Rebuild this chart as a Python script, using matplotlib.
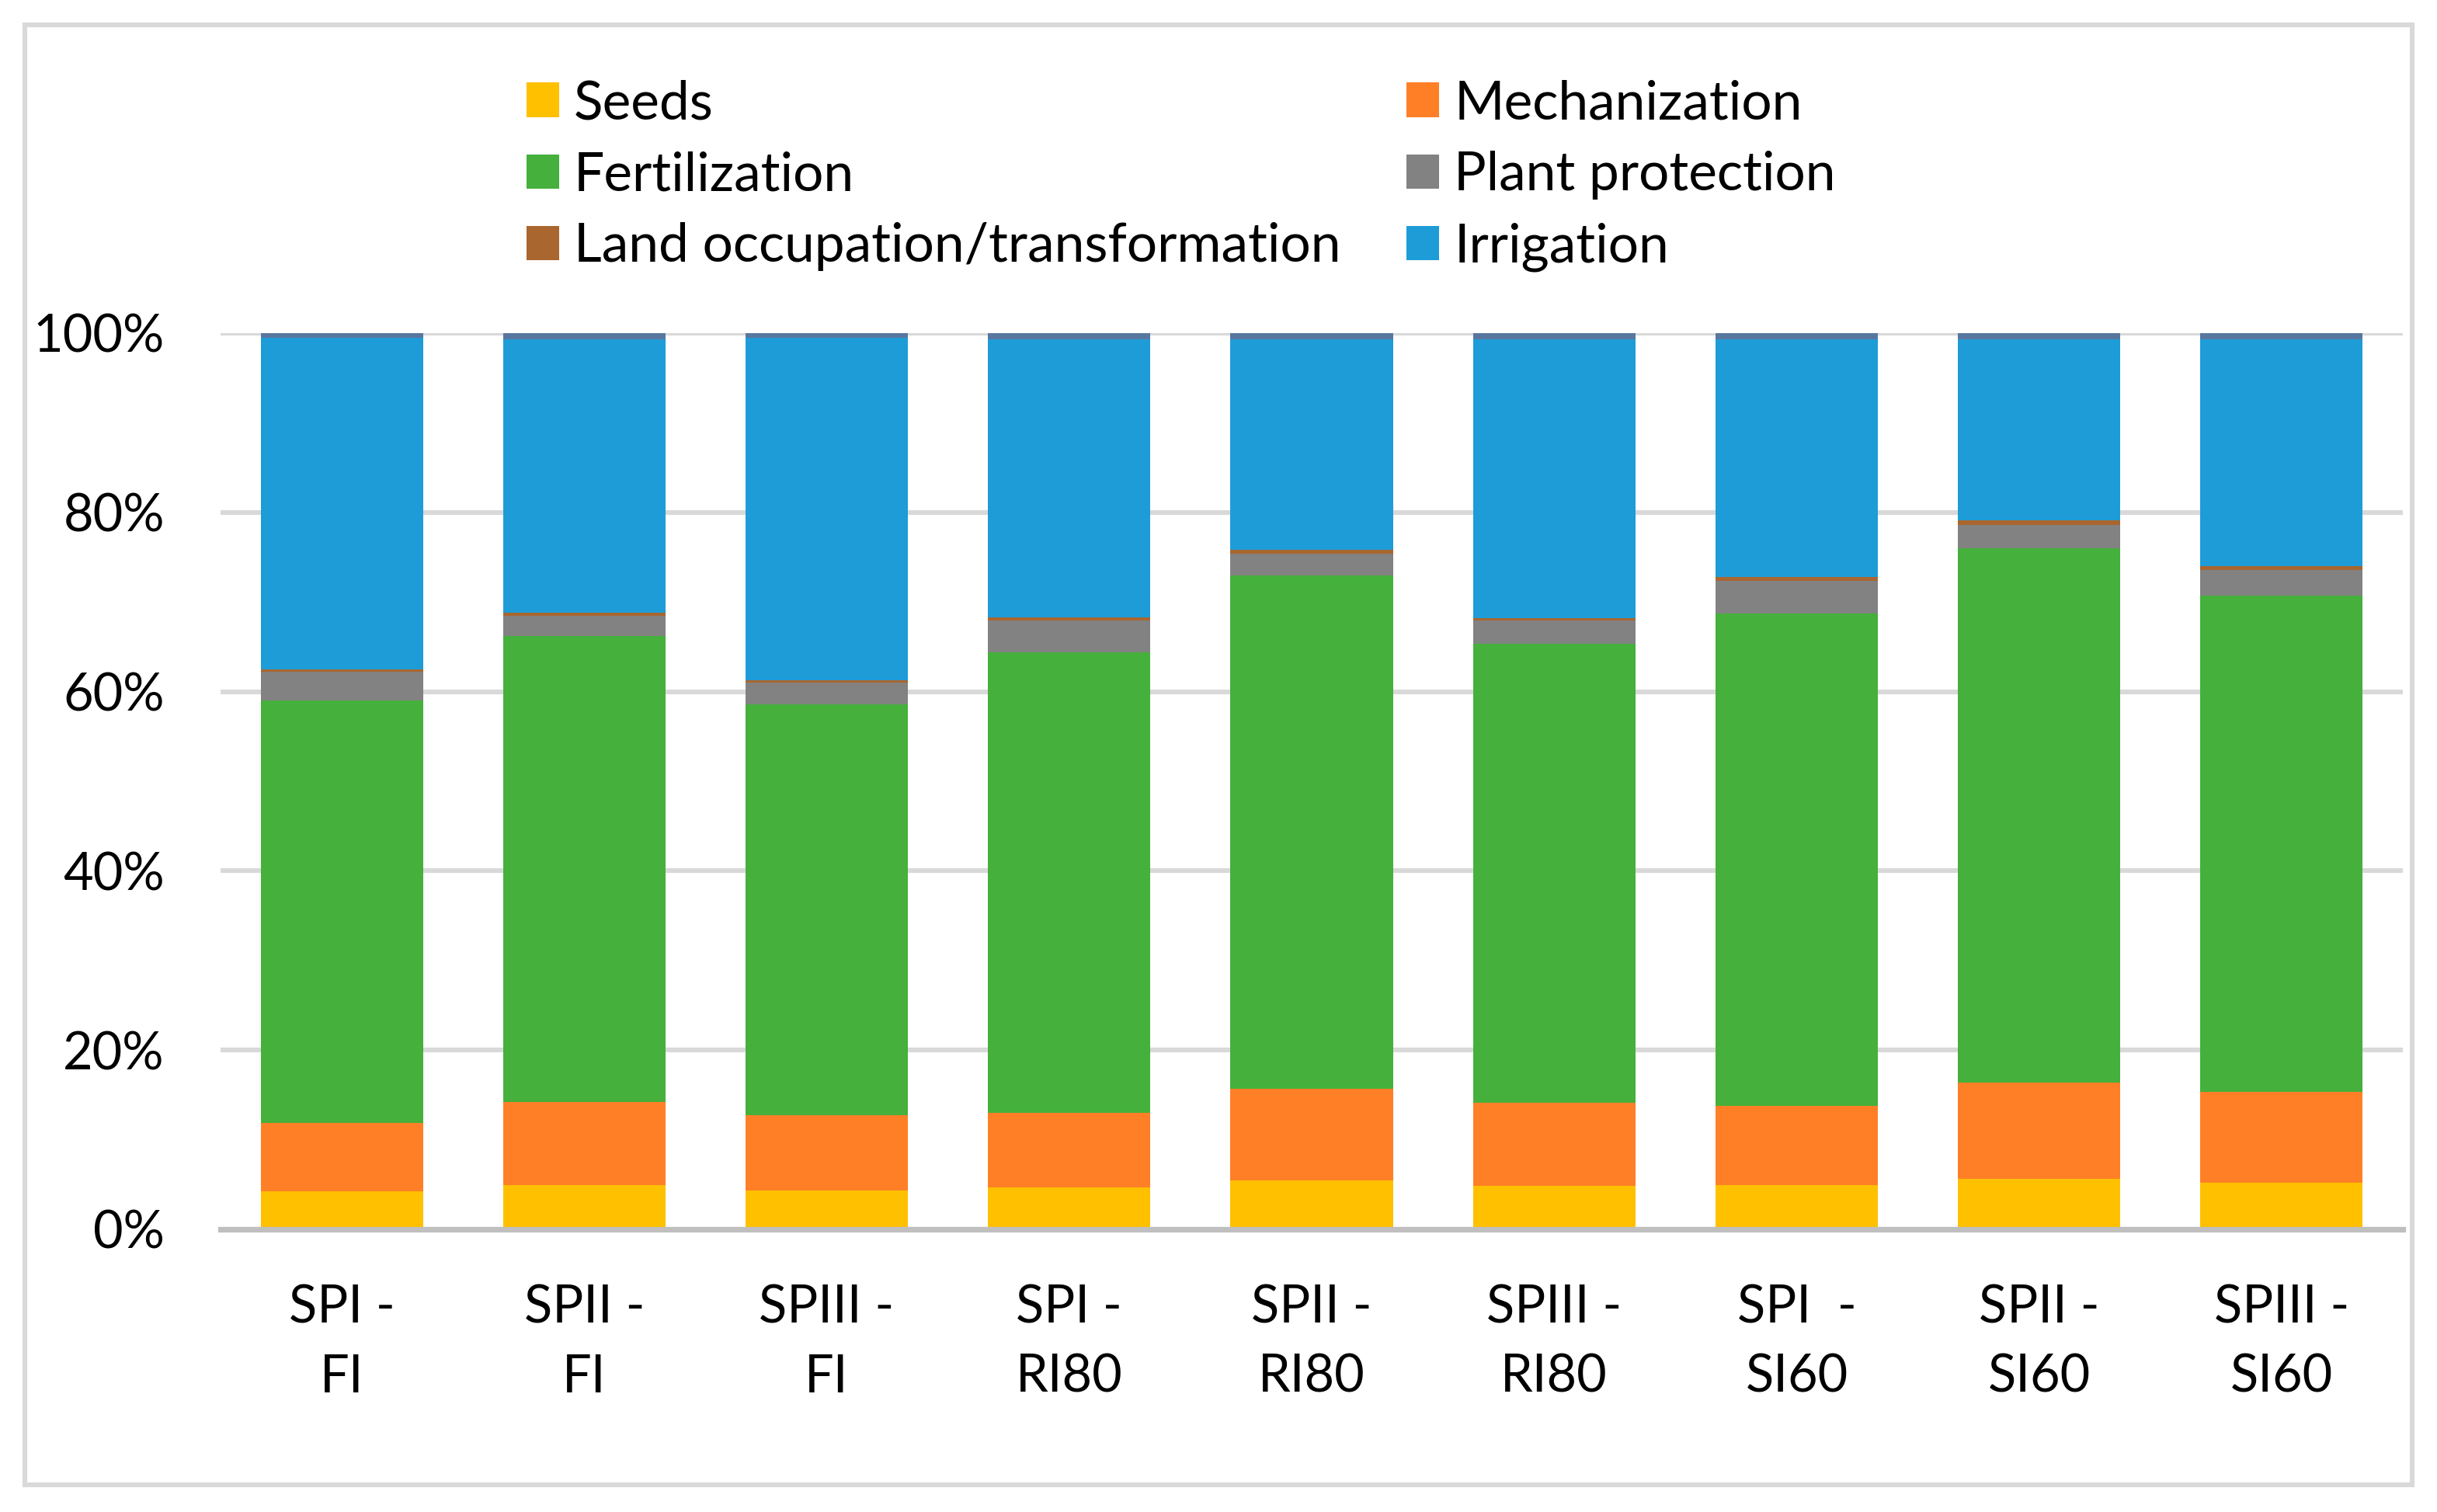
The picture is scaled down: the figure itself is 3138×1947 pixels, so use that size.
import matplotlib.pyplot as plt
import matplotlib.patches as patches
import numpy as np
from matplotlib.ticker import FuncFormatter

plt.rcParams['font.family'] = ['Lato', 'DejaVu Sans']

# share of each stage (%) per scenario
scenarios = ["SPI -\nFI", "SPII -\nFI", "SPIII -\nFI",
             "SPI -\nRI80", "SPII -\nRI80", "SPIII -\nRI80",
             "SPI  -\nSI60", "SPII -\nSI60", "SPIII -\nSI60"]
seeds = [4.25, 4.94, 4.33, 4.68, 5.46, 4.85, 4.94, 5.63, 5.2]
mechanization = [7.65, 9.26, 8.37, 8.32, 10.24, 9.25, 8.86, 10.77, 10.1]
fertilization = [47.1, 52.0, 45.9, 51.4, 57.3, 51.2, 54.9, 59.6, 55.4]
plant_protection = [3.2, 2.3, 2.4, 3.5, 2.4, 2.6, 3.7, 2.6, 2.9]
land_occupation = [0.3, 0.3, 0.3, 0.4, 0.4, 0.3, 0.4, 0.5, 0.4]
irrigation = [37.0, 30.5, 38.2, 31.0, 23.5, 31.1, 26.5, 20.2, 25.3]
other = [0.5, 0.7, 0.5, 0.7, 0.7, 0.7, 0.7, 0.7, 0.7]

series = [
    ("Seeds", seeds, "#FFC000"),
    ("Mechanization", mechanization, "#FF7F27"),
    ("Fertilization", fertilization, "#45B03C"),
    ("Plant protection", plant_protection, "#828282"),
    ("Land occupation/transformation", land_occupation, "#A9662F"),
    ("Irrigation", irrigation, "#1E9CD8"),
    (None, other, "#58779F"),
]

W, H = 3138, 1947
fig = plt.figure(figsize=(W / 200, H / 200), dpi=200)
ax = fig.add_axes([284 / W, 1 - 1583 / H, (3094 - 284) / W, 1154 / H])

x = np.arange(len(scenarios))
bottom = np.zeros(len(scenarios))
handles = {}
for name, vals, color in series:
    vals = np.array(vals) / 100.0
    b = ax.bar(x, vals, bottom=bottom, width=0.67, color=color, zorder=3)
    if name:
        handles[name] = b
    bottom += vals

ax.set_xlim(-0.5, len(scenarios) - 0.5)
ax.set_ylim(0, 1)
ax.set_yticks(np.arange(0, 1.01, 0.2))
ax.yaxis.set_major_formatter(FuncFormatter(lambda v, p: f"{v * 100:.0f}%"))
ax.grid(axis='y', color='#d9d9d9', linewidth=2.2, zorder=0)
ax.set_xticks(x)
ax.set_xticklabels(scenarios, linespacing=1.54)
ax.tick_params(axis='both', length=0, labelsize=24)
ax.tick_params(axis='x', pad=25.5)
ax.tick_params(axis='y', pad=26)
for s in ['top', 'right', 'left']:
    ax.spines[s].set_visible(False)
ax.spines['bottom'].set_color('#bfbfbf')
ax.spines['bottom'].set_linewidth(2.6)
ax.spines['bottom'].set_zorder(4)

order = ["Seeds", "Fertilization", "Land occupation/transformation",
         "Mechanization", "Plant protection", "Irrigation"]
fig.legend([handles[n] for n in order], order, ncol=2, frameon=False,
           loc='upper left', bbox_to_anchor=(678 / W, 1 - 102 / H),
           fontsize=25, handlelength=0.6, handleheight=0.6,
           handletextpad=0.28, columnspacing=1.22, labelspacing=0.42,
           borderpad=0, borderaxespad=0)

# chart area border
fig.patches.append(patches.Rectangle((32 / W, 35 / H), (3106 - 32) / W, (1915 - 35) / H,
                                     transform=fig.transFigure, fill=False,
                                     edgecolor='#d9d9d9', linewidth=2.2))

fig.savefig("out.png", dpi=200)
